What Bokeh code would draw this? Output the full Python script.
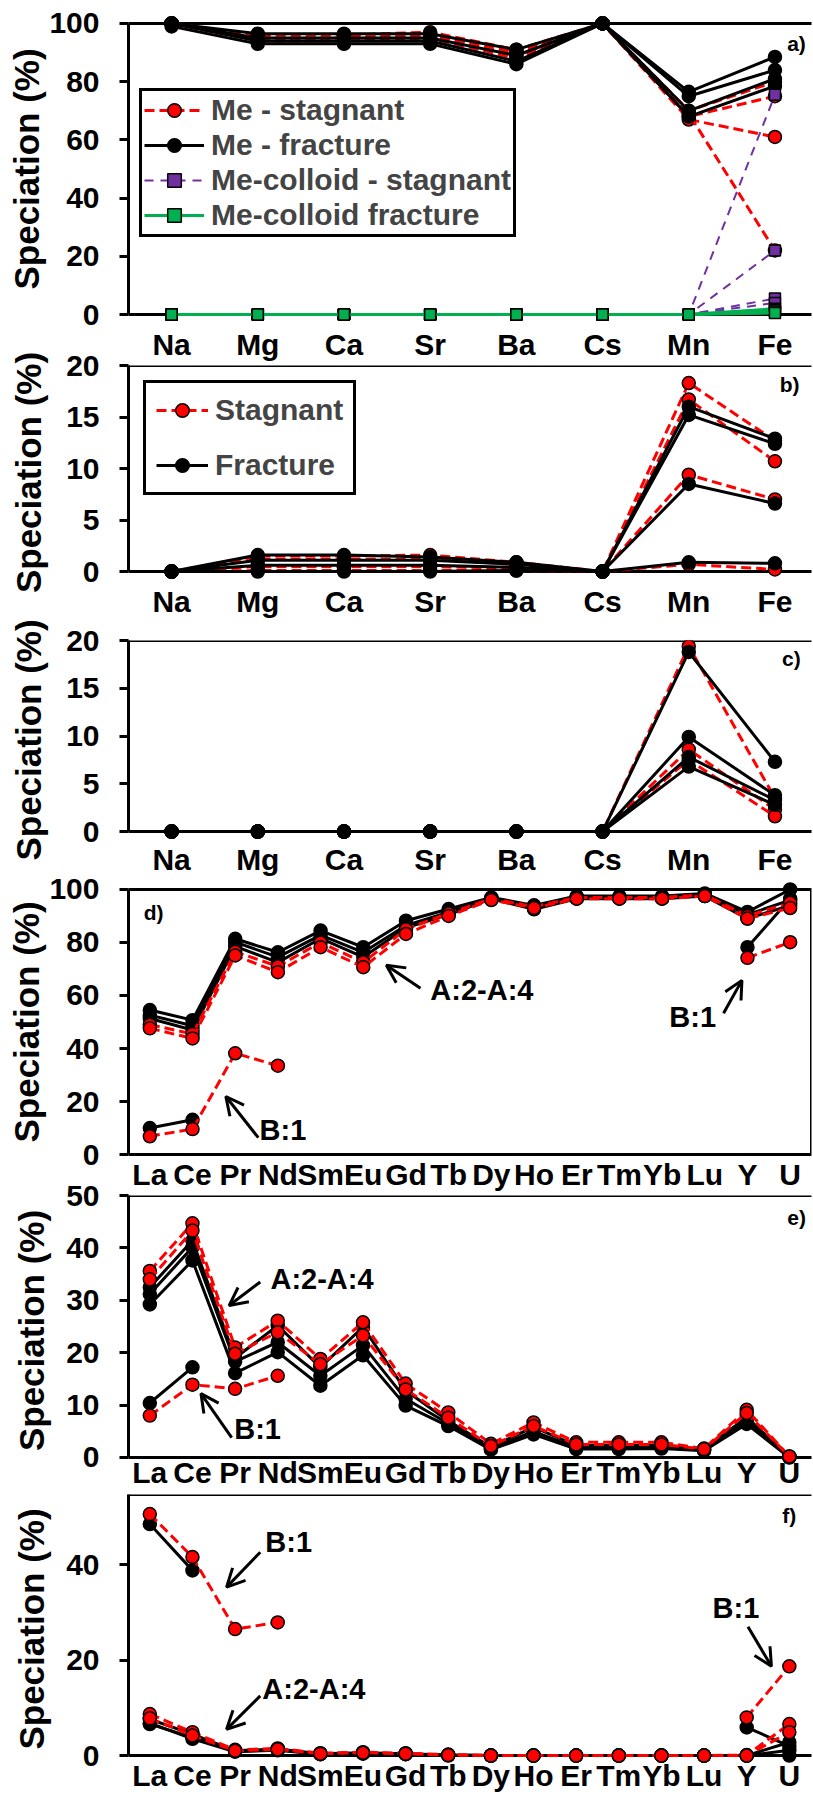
import math
from bokeh.plotting import figure
from bokeh.models import (FixedTicker, Legend, LegendItem, BoxAnnotation,
                          Label, Arrow, OpenHead, Range1d)
from bokeh.layouts import column
from bokeh.embed import file_html
from bokeh.resources import INLINE

nan = float("nan")

# ---------------- categories ----------------
major_elements = ["Na", "Mg", "Ca", "Sr", "Ba", "Cs", "Mn", "Fe"]
ree_elements = ["La", "Ce", "Pr", "Nd", "Sm", "Eu", "Gd", "Tb", "Dy", "Ho",
                "Er", "Tm", "Yb", "Lu", "Y", "U"]

# ---------------- panel a ----------------
a_stagnant = [
    [100, 96, 96, 97, 91, 100, 70, 80],
    [100, 95, 95, 96, 90, 100, 68, 75],
    [100, 95, 95, 96, 89, 100, 67, 61],
    [100, 94, 94, 95, 88, 100, 69, 22],
]
a_fracture = [
    [100, 96.5, 96.5, 96.5, 91, 100, 76.5, 88.5],
    [100, 95, 95, 95, 89, 100, 75, 84],
    [100, 94, 94, 94, 87, 100, 70, 81],
    [99, 93, 93, 93, 86, 100, 68, 78.5],
]
a_colloid_stagnant = [
    [0, 0, 0, 0, 0, 0, 0, 75.5],
    [0, 0, 0, 0, 0, 0, 0, 22],
    [0, 0, 0, 0, 0, 0, 0, 5.5],
    [0, 0, 0, 0, 0, 0, 0, 4],
]
a_colloid_fracture = [
    [0, 0, 0, 0, 0, 0, 0, 2],
    [0, 0, 0, 0, 0, 0, 0, 1.5],
    [0, 0, 0, 0, 0, 0, 0, 1],
    [0, 0, 0, 0, 0, 0, 0, 0.5],
]
a_legend_labels = ["Me - stagnant", "Me - fracture", "Me-colloid - stagnant", "Me-colloid fracture"]

# ---------------- panel b ----------------
b_stagnant = [
    [0, 1.5, 1.5, 1.6, 0.9, 0, 18.3, 12.7],
    [0, 1.2, 1.2, 1.2, 0.7, 0, 16.7, 10.7],
    [0, 0.5, 0.5, 0.5, 0.3, 0, 9.4, 7.0],
    [0, 0.1, 0.1, 0.1, 0.1, 0, 0.7, 0.2],
]
b_fracture = [
    [0, 1.6, 1.6, 1.4, 0.9, 0, 16.0, 12.9],
    [0, 1.1, 1.1, 1.1, 0.7, 0, 15.2, 12.4],
    [0, 0.6, 0.6, 0.6, 0.4, 0, 8.5, 6.6],
    [0, 0.0, 0.0, 0.0, 0.1, 0, 0.9, 0.8],
]
b_legend_labels = ["Stagnant", "Fracture"]

# ---------------- panel c ----------------
c_stagnant = [
    [0, 0, 0, 0, 0, 0, 19.4, 3.5],
    [0, 0, 0, 0, 0, 0, 8.6, 2.3],
    [0, 0, 0, 0, 0, 0, 7.5, 1.6],
]
c_fracture = [
    [0, 0, 0, 0, 0, 0, 18.8, 7.3],
    [0, 0, 0, 0, 0, 0, 9.9, 3.8],
    [0, 0, 0, 0, 0, 0, 7.8, 3.3],
    [0, 0, 0, 0, 0, 0, 6.8, 2.8],
]

# ---------------- panel d ----------------
d_stagnant = [
    [49, 45.5, 76.5, 71, 80, 72.5, 85, 91, 96.5, 93.5, 97, 97, 97, 98, 90, 95],
    [47.6, 43.8, 75.1, 68.8, 78.2, 70.7, 83.2, 90, 96, 93, 96.5, 96.5, 96.5, 97.5, 89, 93],
    [6.9, 9.6, 38.2, 33.5, nan, nan, nan, nan, nan, nan, nan, nan, nan, nan, 74.2, 80.1],
]
d_fracture = [
    [54.5, 50.7, 81.4, 76.3, 84.5, 78.2, 88.2, 92.6, 97, 94, 97.5, 97.5, 97.5, 98.5, 91.5, 100],
    [52.6, 48.6, 80.1, 74.5, 82.8, 76.3, 86.4, 91.4, 96.5, 93, 97, 97, 97, 98, 90.5, 96],
    [51.3, 47, 78.5, 72.5, 81.5, 74.5, 85.5, 90.5, 96.5, 92.5, 96.5, 96.5, 96.5, 97.5, 89, 94],
    [10, 13.1, nan, nan, nan, nan, nan, nan, nan, nan, nan, nan, nan, nan, 78.2, 96.5],
]

# ---------------- panel e ----------------
e_stagnant = [
    [35.6, 44.7, 21.0, 26.1, 18.8, 25.8, 14.1, 8.6, 2.6, 6.7, 2.9, 2.9, 2.9, 1.7, 9.1, 0.2],
    [34.0, 43.3, 19.8, 23.9, 17.8, 23.3, 13.0, 7.6, 2.2, 6.0, 2.5, 2.5, 2.5, 1.6, 8.5, 0.2],
    [8.0, 13.9, 13.1, 15.6, nan, nan, nan, nan, nan, nan, nan, nan, nan, nan, nan, nan],
]
e_fracture = [
    [32.5, 41.4, 19.0, 25.2, 17.2, 24.9, 12.8, 7.0, 2.0, 5.8, 2.3, 2.3, 2.4, 1.5, 7.7, 0.1],
    [31.2, 40.1, 18.3, 22.0, 15.6, 21.4, 11.2, 6.5, 1.7, 5.0, 1.9, 1.9, 2.0, 1.4, 7.0, 0.1],
    [29.2, 37.6, 16.1, 20.1, 13.7, 19.5, 9.9, 6.0, 1.5, 4.4, 1.6, 1.6, 1.7, 1.3, 6.4, 0.0],
    [10.4, 17.2, nan, nan, nan, nan, nan, nan, nan, nan, nan, nan, nan, nan, nan, nan],
]

# ---------------- panel f ----------------
f_stagnant = [
    [8.7, 4.9, 1.2, 1.5, 0.5, 0.7, 0.5, 0.2, 0, 0, 0, 0, 0, 0, 0.1, 6.6],
    [7.8, 4.2, 1.0, 1.3, 0.4, 0.6, 0.4, 0.1, 0, 0, 0, 0, 0, 0, 0, 4.9],
    [50.6, 41.6, 26.5, 27.9, nan, nan, nan, nan, nan, nan, nan, nan, nan, nan, 8.0, 18.7],
]
f_fracture = [
    [7.6, 4.5, 1.0, 1.4, 0.4, 0.6, 0.4, 0.1, 0, 0, 0, 0, 0, 0, 0, 2.8],
    [6.6, 3.8, 0.9, 1.2, 0.3, 0.5, 0.3, 0.1, 0, 0, 0, 0, 0, 0, 0, 1.1],
    [6.8, 3.5, 0.8, 1.1, 0.3, 0.4, 0.3, 0, 0, 0, 0, 0, 0, 0, 0, 0],
    [48.5, 38.8, nan, nan, nan, nan, nan, nan, nan, nan, nan, nan, nan, nan, 5.9, 2.0],
]

# ---------------- annotations (text, x, y) and arrows (x0, y0, x1, y1) ----------------
panel_tags = ["a)", "b)", "c)", "d)", "e)", "f)"]
tag_pos = [(7.25, 93), (7.17, 18.2), (7.19, 18.1), (0.09, 91.4), (15.17, 45.8), (15.0, 50.2)]

d_notes = [("A:2-A:4", 6.57, 62.0), ("B:1", 2.57, 9.4), ("B:1", 12.17, 52.0)]
d_arrows = [(6.34, 62.7, 5.54, 71.4), (2.54, 6.4, 1.78, 21.9), (13.44, 53.3, 13.87, 65.7)]
e_notes = [("A:2-A:4", 2.83, 34.1), ("B:1", 1.98, 5.5)]
e_arrows = [(2.59, 33.5, 1.86, 29.0), (1.92, 3.8, 1.2, 12.2)]
f_notes = [("B:1", 2.71, 44.7), ("A:2-A:4", 2.64, 13.9), ("B:1", 13.2, 30.9)]
f_arrows = [(2.59, 42.6, 1.80, 35.3), (2.59, 12.5, 1.80, 5.5), (14.03, 27.0, 14.58, 18.7)]

# ---------------- styles ----------------
FONT = "Liberation Sans"
RED = "#FF0000"
PURPLE = "#7030A0"
GREEN = "#00B050"
TICK_FS = "30px"
W = 813
OVERLAP = 16


def make_fig(height, top, bottom, left, right, x_end, y_start, y_end, top_val, yticks,
             cats, x_standoff, ylab_standoff, box_right, overlap=0):
    p = figure(width=W, height=height + overlap,
               x_range=Range1d(-0.5, x_end), y_range=Range1d(y_start, y_end),
               output_backend="svg", toolbar_location=None,
               min_border_left=left, min_border_right=right,
               min_border_top=top + overlap, min_border_bottom=bottom,
               outline_line_color=None, background_fill_color="white",
               border_fill_color=None, border_fill_alpha=0,
               margin=(-overlap, 0, 0, 0))
    p.xgrid.visible = False
    p.ygrid.visible = False

    xa = p.xaxis[0]
    xa.ticker = FixedTicker(ticks=list(range(len(cats))))
    xa.major_label_overrides = {i: c for i, c in enumerate(cats)}
    xa.axis_line_color = None
    xa.major_tick_line_color = None
    xa.major_tick_out = 0
    xa.major_tick_in = 0
    xa.minor_tick_line_color = None
    xa.major_label_standoff = x_standoff
    xa.major_label_text_font = FONT
    xa.major_label_text_font_size = TICK_FS
    xa.major_label_text_font_style = "bold"
    xa.major_label_text_color = "black"

    ya = p.yaxis[0]
    ya.ticker = FixedTicker(ticks=yticks)
    ya.bounds = (0, top_val)
    ya.axis_line_width = 3
    ya.axis_line_color = "black"
    ya.major_tick_line_width = 3
    ya.major_tick_out = 9
    ya.major_tick_in = 0
    ya.minor_tick_line_color = None
    ya.major_label_standoff = 20
    ya.major_label_text_font = FONT
    ya.major_label_text_font_size = TICK_FS
    ya.major_label_text_font_style = "bold"
    ya.major_label_text_color = "black"
    ya.axis_label = "Speciation (%)"
    ya.axis_label_text_font = FONT
    ya.axis_label_text_font_size = "35px"
    ya.axis_label_text_font_style = "bold"
    ya.axis_label_text_color = "black"
    ya.axis_label_standoff = ylab_standoff

    box = BoxAnnotation(left=-0.5, right=box_right, bottom=0, top=top_val,
                        fill_color=None, fill_alpha=0, line_color="black",
                        line_alpha=1.0, line_width=3, level="underlay")
    p.add_layout(box)
    return p


def draw_series(p, rows, color, dash, lw, marker, fill, size):
    out = []
    for r in rows:
        xs = list(range(len(r)))
        lr = p.line(xs, r, line_color=color, line_dash=dash, line_width=lw)
        sr = p.scatter(xs, r, marker=marker, size=size, fill_color=fill,
                       line_color="black", line_width=1.5)
        out.append((lr, sr))
    return out


def add_tag(p, text, x, y):
    p.add_layout(Label(x=x, y=y, text=text, text_font=FONT, text_font_size="21px",
                       text_font_style="bold", text_align="center",
                       text_baseline="middle", text_color="black"))


def add_notes(p, notes, arrows):
    for t, x, y in notes:
        p.add_layout(Label(x=x, y=y, text=t, text_font=FONT, text_font_size="29px",
                           text_font_style="bold", text_align="left",
                           text_baseline="middle", text_color="black"))
    for x0, y0, x1, y1 in arrows:
        p.add_layout(Arrow(x_start=x0, y_start=y0, x_end=x1, y_end=y1,
                           line_width=3, line_color="black",
                           end=OpenHead(size=18, line_width=3, line_color="black")))


def make_legend(items, loc, glyph_w, spacing, padding):
    return Legend(items=items, location=loc, label_text_font=FONT,
                  label_text_font_size="30px", label_text_font_style="bold",
                  border_line_color="black", border_line_alpha=1.0,
                  border_line_width=3, glyph_width=glyph_w, glyph_height=34,
                  label_height=34, spacing=spacing, padding=padding, margin=0,
                  label_standoff=7, background_fill_color="white",
                  background_fill_alpha=1)


n_maj = len(major_elements)
n_ree = len(ree_elements)
X_END_MAJ = 7.424

# ---------- panel a ----------
pa = make_fig(363, 15, 40, 126, 0, X_END_MAJ, -2.74, 102.74, 100, [0, 20, 40, 60, 80, 100],
              major_elements, 5, 0, n_maj)
ra_s = draw_series(pa, a_stagnant, RED, "10 5", 3, "circle", RED, 13)
ra_f = draw_series(pa, a_fracture, "black", "solid", 3, "circle", "black", 13)
ra_cs = draw_series(pa, a_colloid_stagnant, PURPLE, "9 7", 2, "square", PURPLE, 11)
ra_cf = draw_series(pa, a_colloid_fracture, GREEN, "solid", 3, "square", GREEN, 11)
leg_a = make_legend([LegendItem(label=a_legend_labels[0], renderers=list(ra_s[0])),
                     LegendItem(label=a_legend_labels[1], renderers=list(ra_f[0])),
                     LegendItem(label=a_legend_labels[2], renderers=list(ra_cs[0])),
                     LegendItem(label=a_legend_labels[3], renderers=list(ra_cf[0]))],
                    (11, 85), 60, 1, 2)
pa.add_layout(leg_a)
add_tag(pa, panel_tags[0], *tag_pos[0])

# ---------- panel b ----------
pb = make_fig(257, 2, 40, 126, 0, X_END_MAJ, -0.773, 20, 20, [0, 5, 10, 15, 20],
              major_elements, 5, 15, n_maj, overlap=OVERLAP)
rb_s = draw_series(pb, b_stagnant, RED, "10 5", 3, "circle", RED, 13)
rb_f = draw_series(pb, b_fracture, "black", "solid", 3, "circle", "black", 13)
leg_b = make_legend([LegendItem(label=b_legend_labels[0], renderers=list(rb_s[0])),
                     LegendItem(label=b_legend_labels[1], renderers=list(rb_f[0]))],
                    (15, 84), 52, 21, 10)
pb.add_layout(leg_b)
add_tag(pb, panel_tags[1], *tag_pos[1])

# ---------- panel c ----------
pc = make_fig(258, 20, 38, 126, 0, X_END_MAJ, -0.833, 20, 20, [0, 5, 10, 15, 20],
              major_elements, 3, 15, n_maj, overlap=OVERLAP)
draw_series(pc, c_stagnant, RED, "10 5", 3, "circle", RED, 13)
draw_series(pc, c_fracture, "black", "solid", 3, "circle", "black", 13)
add_tag(pc, panel_tags[2], *tag_pos[2])

# ---------- panel d ----------
pd_ = make_fig(315, 3, 30, 128, 2, 15.5, -3.0, 103.0, 100, [0, 20, 40, 60, 80, 100],
               ree_elements, -5, 0, 15.5, overlap=OVERLAP)
draw_series(pd_, d_fracture, "black", "solid", 3, "circle", "black", 13)
draw_series(pd_, d_stagnant, RED, "10 5", 3, "circle", RED, 13)
add_notes(pd_, d_notes, d_arrows)
add_tag(pd_, panel_tags[3], *tag_pos[3])

# ---------- panel e ----------
pe = make_fig(300, 2, 28, 124, 0, 15.52, -1.527, 50, 50, [0, 10, 20, 30, 40, 50],
              ree_elements, -10, 12, n_ree, overlap=OVERLAP)
draw_series(pe, e_fracture, "black", "solid", 3, "circle", "black", 13)
draw_series(pe, e_stagnant, RED, "10 5", 3, "circle", RED, 13)
add_notes(pe, e_notes, e_arrows)
add_tag(pe, panel_tags[4], *tag_pos[4])

# ---------- panel f ----------
pf = make_fig(301, 1, 29, 124, 0, 15.52, -1.663, 54.7, 54.7, [0, 20, 40],
              ree_elements, -5, 12, n_ree, overlap=OVERLAP)
draw_series(pf, f_fracture, "black", "solid", 3, "circle", "black", 13)
draw_series(pf, f_stagnant, RED, "10 5", 3, "circle", RED, 13)
add_notes(pf, f_notes, f_arrows)
add_tag(pf, panel_tags[5], *tag_pos[5])

layout = column(pa, pb, pc, pd_, pe, pf, spacing=0)
open("out.html", "w").write(file_html(layout, INLINE))
